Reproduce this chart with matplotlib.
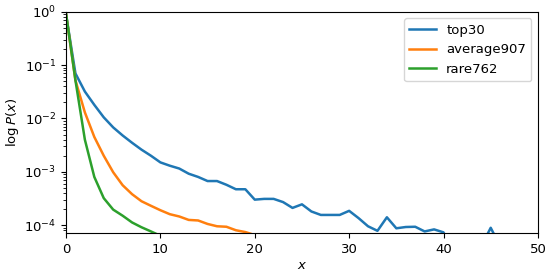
import matplotlib
matplotlib.use('Agg')
import matplotlib.pyplot as plt
import numpy as np

# values (index = x)
top30 = [0.9, 0.07, 0.032, 0.018, 0.0105, 0.0068, 0.0048, 0.0035, 0.0026, 0.002,
         0.0015, 0.0013, 0.00115, 0.00092, 0.0008, 0.00067, 0.00067, 0.00057, 0.00047, 0.00047,
         0.0003, 0.00031, 0.00031, 0.00027, 0.00021, 0.000245, 0.00018, 0.000155, 0.000155, 0.000155,
         0.000185, 0.000135, 0.000095, 0.000078, 0.00014, 0.000087, 0.000092, 0.000093, 0.000076, 0.000083,
         0.000073, 0.00003, 0.00003, 0.00003, 0.00004, 0.000089, 0.00004]
average907 = [0.92, 0.052, 0.013, 0.0045, 0.002, 0.00098, 0.00056, 0.00038, 0.00028, 0.00023,
              0.00019, 0.00016, 0.000145, 0.000125, 0.000122, 0.000105, 0.000095, 0.000093, 0.00008, 0.000074,
              0.000065, 0.00005, 0.00004]
rare762 = [0.95, 0.052, 0.004, 0.0008, 0.00032, 0.000195, 0.00015, 0.000112, 0.000091, 0.000076,
           0.000063, 0.00005, 0.00004]

fig = plt.figure(figsize=(5.5, 2.73), dpi=100)
ax = fig.add_axes([0.12, 0.1465, 0.858, 0.81])

ax.plot(np.arange(len(top30)), top30, lw=1.8, label='top30')
ax.plot(np.arange(len(average907)), average907, lw=1.8, label='average907')
ax.plot(np.arange(len(rare762)), rare762, lw=1.8, label='rare762')

ax.set_yscale('log')
ax.set_xlim(0, 50)
ax.set_ylim(7.1e-5, 1)
ax.set_xlabel('$x$', fontsize=9.5, labelpad=2)
ax.set_ylabel(r'$\log P(x)$', fontsize=9.5, labelpad=2)
ax.tick_params(labelsize=9.5)
ax.legend(loc='upper right', fontsize=9.5)

fig.savefig('out.png', dpi=100)
